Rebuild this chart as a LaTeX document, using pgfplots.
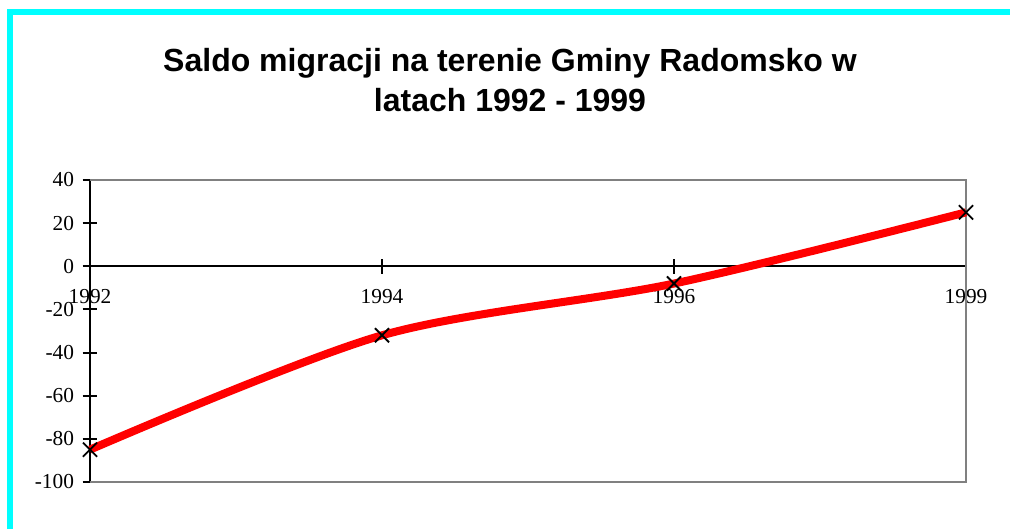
\documentclass[border=0pt]{standalone}
\usepackage{pgfplots}
\pgfplotsset{compat=1.18}
\usepackage{fontspec}
\setmainfont{Liberation Serif}
\newfontfamily\arialf{Liberation Sans}
\definecolor{cyanb}{RGB}{0,255,255}
\definecolor{frameg}{RGB}{128,128,128}
\begin{document}
\begin{tikzpicture}
\path[use as bounding box] (0pt,0pt) rectangle (757.5pt,396.75pt);
\fill[cyanb] (5.25pt,385.5pt) rectangle (757.5pt,390pt);
\fill[cyanb] (5.25pt,0pt) rectangle (9.75pt,390pt);
\node[font=\arialf\bfseries\fontsize{24}{28}\selectfont, anchor=base, inner sep=0pt] at (382.5pt,342.75pt) {Saldo migracji na terenie Gminy Radomsko w};
\node[font=\arialf\bfseries\fontsize{24}{28}\selectfont, anchor=base, inner sep=0pt] at (382.5pt,312.75pt) {latach 1992 - 1999};
\begin{axis}[
  at={(67.5pt,35.25pt)}, anchor=south west,
  scale only axis, width=657pt, height=226.5pt,
  xmin=0, xmax=3, ymin=-100, ymax=40,
  ytick={-100,-80,-60,-40,-20,0,20,40},
  xtick={0,1,2,3},
  xticklabels={1992,1994,1996,1999},
  axis x line=middle, axis y line=left,
  hide obscured x ticks=false,
  axis line style={-, black, line width=1.5pt},
  x axis line style={-, black, line width=1.5pt},
  y axis line style={-, black, line width=1.5pt},
  tick style={black, line width=1.5pt},
  major tick length=11pt,
  xtick align=center, ytick align=center,
  ticklabel style={font=\fontsize{16}{18}\selectfont},
  /pgf/number format/assume math mode=true,
  yticklabel style={xshift=-3pt},
  xticklabel style={anchor=north, yshift=-8pt},
  clip=false,
]
\draw[frameg, line width=1.5pt] (rel axis cs:0,0) -- (rel axis cs:1,0) -- (rel axis cs:1,1) -- (rel axis cs:0,1);
\addplot[red, line width=6pt, smooth, tension=0.5] coordinates {(0,-85) (1,-32) (2,-8) (3,25)};
\addplot[only marks, mark=x, mark size=7.5pt, black, mark options={line width=1.4pt}] coordinates {(0,-85) (1,-32) (2,-8) (3,25)};
\end{axis}
\end{tikzpicture}
\end{document}
